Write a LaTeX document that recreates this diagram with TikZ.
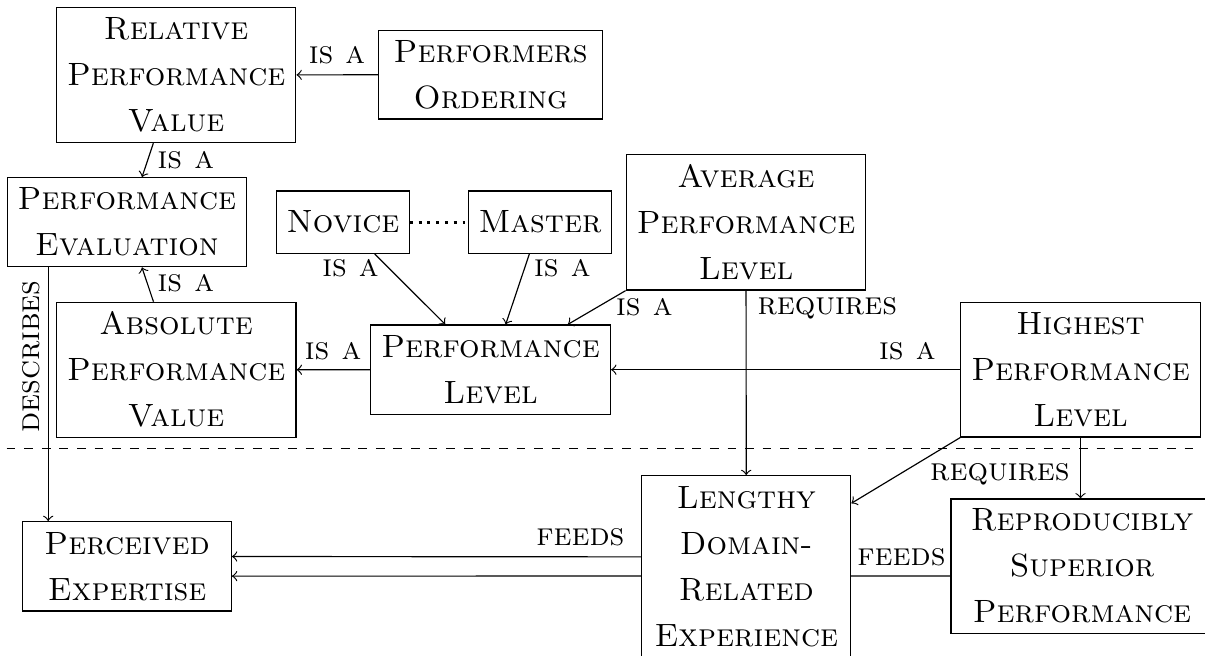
\documentclass[tikz,border=0pt]{standalone}
\usetikzlibrary{backgrounds}
\newdimen\pxu
\pxu=0.3413pt
\begin{document}
\begin{tikzpicture}[x=0.3413pt, y=-0.3413pt,
  box/.style={draw, fill=white, align=center, inner sep=0pt,
    font=\fontsize{11}{15.7}\selectfont\scshape},
  sz/.style 2 args={minimum width=#1\pxu, minimum height=#2\pxu},
  lbl/.style={inner sep=0pt, anchor=base, font=\fontsize{11}{13}\selectfont\scshape},
  link/.style={->}]
\useasboundingbox (0,0) rectangle (1205,656);

% concepts
\node[box, sz={239.3}{135.3}] (rel) at (176.2,75) {Relative\\Performance\\Value};
\node[box, sz={223.8}{88.7}] (ord) at (490.7,74.7) {Performers\\Ordering};
\node[box, sz={239.6}{89}] (peval) at (126.9,222.2) {Performance\\Evaluation};
\node[box, sz={132.4}{62.3}] (novice) at (343,222.2) {Novice};
\node[box, sz={142.7}{62.3}] (master) at (540,222.2) {Master};
\node[box, sz={239.6}{135.7}] (avg) at (746,222.2) {Average\\Performance\\Level};
\node[box, sz={239.6}{135}] (abs) at (176.2,369.8) {Absolute\\Performance\\Value};
\node[box, sz={240}{89.3}] (plevel) at (490.5,369.7) {Performance\\Level};
\node[box, sz={239.6}{134.7}] (high) at (1080.5,369.7) {Highest\\Performance\\Level};
\node[box, sz={208.4}{89.3}] (perc) at (127.1,566.3) {Perceived\\Expertise};
\node[box, sz={209}{182}] (lengthy) at (746.3,566.7) {Lengthy\\Domain-\\Related\\Experience};
\node[box, sz={262}{134.3}] (repro) at (1082,566.2) {Reproducibly\\Superior\\Performance};

% relations
\draw[link] (ord) -- (rel);
\draw[link] (rel) -- (peval);
\draw[link] (abs) -- (peval);
\draw[link] (plevel) -- (abs);
\draw[link] (novice) -- (plevel);
\draw[link] (master) -- (plevel);
\draw[link] (avg.south west) -- (plevel);
\draw[link] (high) -- (plevel);
\draw[link] (avg) -- (lengthy);
\draw[link] (high.south west) -- (lengthy);
\draw[link] (high) -- (high |- repro.north);
\draw[link] ([yshift=3.35pt]lengthy.west) -- ([yshift=3.35pt]perc.east);
\begin{pgfonlayer}{background}
  \draw[link] ([yshift=-3.35pt]repro.west) -- ([yshift=-3.35pt]perc.east);
\end{pgfonlayer}
\coordinate (dline) at (48.2,0);
\draw[link] (peval.south -| dline) -- (perc.north -| dline);
\draw[line width=1pt, dotted] (novice) -- (master);

% separator
\coordinate (sepl) at (6.7,448.3);
\coordinate (sepr) at (1196,448.3);
\draw[dashed] (sepl) -- (sepr);

% relation labels
\node[lbl] (l1) at (337,63.3) {is a};
\node[lbl] (l2) at (185.8,168.3) {is a};
\node[lbl] (l3) at (185.8,291.7) {is a};
\node[lbl] (l4) at (333.1,359) {is a};
\node[lbl] (l5) at (350.5,276.7) {is a};
\node[lbl] (l6) at (562.4,276.7) {is a};
\node[lbl] (l7) at (644.4,315.7) {is a};
\node[lbl] (l8) at (827.3,315) {requires};
\node[lbl] (l9) at (907.3,359) {is a};
\node[lbl] (l10) at (999.9,480) {requires};
\node[lbl] (l11) at (901.5,565) {feeds};
\node[lbl] (l12) at (580.4,545.7) {feeds};
\node[lbl, rotate=90] (l13) at (39.5,356.5) {describes};
\end{tikzpicture}
\end{document}
